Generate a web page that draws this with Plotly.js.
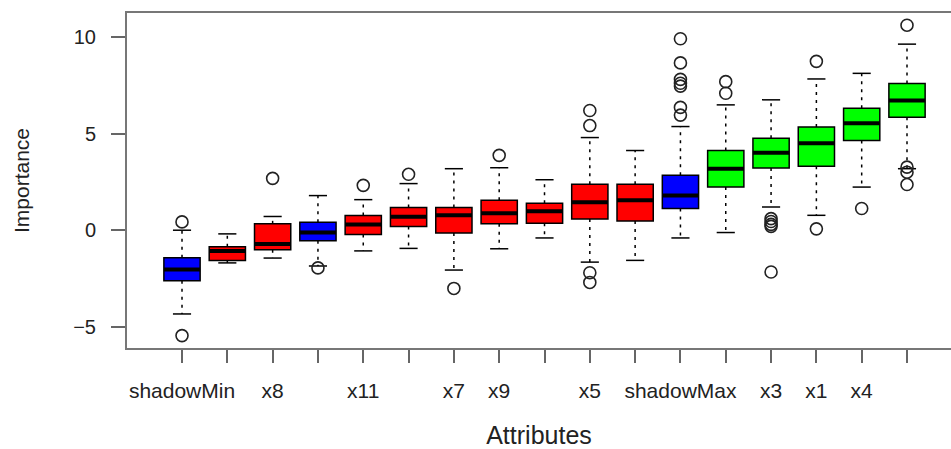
<!DOCTYPE html>
<html>
<head>
<meta charset="utf-8">
<script src="https://cdn.plot.ly/plotly-3.0.1.min.js"></script>
<style>html,body{margin:0;padding:0;background:#fff;}#chart{width:951px;height:449px;}</style>
</head>
<body>
<div id="chart"></div>
<script>
// Attribute positions (1..17) and the labels R managed to print
const positions = [1,2,3,4,5,6,7,8,9,10,11,12,13,14,15,16,17];
const tickLabels = ['shadowMin','','x8','','x11','','x7','x9','','x5','','shadowMax','','x3','x1','x4',''];
const decision = ['shadow','rejected','rejected','shadow','rejected','rejected','rejected','rejected','rejected','rejected','rejected','shadow','confirmed','confirmed','confirmed','confirmed','confirmed'];

// Box statistics
const q1     = [-2.61,-1.56,-1.01,-0.55,-0.22,0.19,-0.15,0.33,0.36,0.58,0.48,1.12,2.23,3.21,3.31,4.64,5.84];
const median = [-2.03,-1.07,-0.71,-0.12, 0.29,0.69, 0.77,0.88,0.98,1.44,1.55,1.79,3.18,4.00,4.50,5.53,6.70];
const q3     = [-1.43,-0.86, 0.33, 0.41, 0.76,1.17, 1.17,1.55,1.39,2.37,2.37,2.84,4.12,4.76,5.33,6.30,7.59];
const whiskerLow  = [-4.33,-1.69,-1.44,-1.85,-1.07,-0.94,-2.06,-0.96,-0.40,-1.65,-1.56,-0.40,-0.12,1.20,0.77,2.23,3.18];
const whiskerHigh = [ 0.00,-0.19, 0.71, 1.79, 1.58, 2.41, 3.18, 3.23, 2.61, 4.79, 4.12, 5.36, 6.48,6.74,7.82,8.11,9.62];

// Outliers per attribute
const outliers = [
  [0.43,-5.45],
  [],
  [2.68],
  [-1.95],
  [2.32],
  [2.89],
  [-3.01],
  [3.87],
  [],
  [6.19,5.41,-2.2,-2.7],
  [],
  [9.9,8.65,7.8,7.6,7.45,6.35,5.95],
  [7.68,7.08],
  [0.6,0.45,0.3,0.2,-2.16],
  [8.73,0.07],
  [1.12],
  [10.6,3.26,3.0,2.36]
];

const colorOf = {shadow:'#0000FF', rejected:'#FF0000', confirmed:'#00FF00'};

const traces = [];
['shadow','rejected','confirmed'].forEach(g => {
  const idx = positions.map((p,i)=>i).filter(i => decision[i] === g);
  traces.push({
    type:'box',
    x: idx.map(i=>positions[i]),
    q1: idx.map(i=>q1[i]),
    median: idx.map(i=>median[i]),
    q3: idx.map(i=>q3[i]),
    lowerfence: idx.map(i=>q1[i]),
    upperfence: idx.map(i=>q3[i]),
    width: 0.8,
    fillcolor: colorOf[g],
    line:{color:'#000', width:1.5},
    whiskerwidth:0,
    hoverinfo:'skip',
    showlegend:false
  });
});

// dashed whiskers
const wx=[], wy=[];
positions.forEach((p,i)=>{
  wx.push(p,p,null,p,p,null);
  wy.push(q3[i],whiskerHigh[i],null,q1[i],whiskerLow[i],null);
});
traces.push({type:'scatter',mode:'lines',x:wx,y:wy,line:{color:'#000',width:1.5,dash:'3px,5px'},hoverinfo:'skip',showlegend:false});

// staples
const sx=[], sy=[];
positions.forEach((p,i)=>{
  sx.push(p-0.2,p+0.2,null,p-0.2,p+0.2,null);
  sy.push(whiskerHigh[i],whiskerHigh[i],null,whiskerLow[i],whiskerLow[i],null);
});
traces.push({type:'scatter',mode:'lines',x:sx,y:sy,line:{color:'#000',width:1.5},hoverinfo:'skip',showlegend:false});

// thick medians
const mx=[], my=[];
positions.forEach((p,i)=>{
  mx.push(p-0.4,p+0.4,null);
  my.push(median[i],median[i],null);
});
traces.push({type:'scatter',mode:'lines',x:mx,y:my,line:{color:'#000',width:4},hoverinfo:'skip',showlegend:false});

// outliers
const ox=[], oy=[];
outliers.forEach((arr,i)=>arr.forEach(v=>{ox.push(positions[i]); oy.push(v);}));
traces.push({type:'scatter',mode:'markers',x:ox,y:oy,marker:{symbol:'circle-open',size:12,color:'#222',line:{width:1.6,color:'#222'}},hoverinfo:'skip',showlegend:false});

const font = 'Liberation Sans, Arial, sans-serif';
const layout = {
  width:951, height:449,
  margin:{l:127, r:0, t:13, b:101},
  paper_bgcolor:'#fff', plot_bgcolor:'#fff',
  boxmode:'overlay',
  showlegend:false,
  xaxis:{
    range:[-0.214,17.971],
    tickmode:'array', tickvals:positions, ticktext:tickLabels,
    ticks:'outside', ticklen:13, tickwidth:2, tickcolor:'#666',
    showline:true, linecolor:'#777', linewidth:2, mirror:true,
    showgrid:false, zeroline:false,
    tickfont:{family:font, size:21, color:'#222'},
    ticklabelstandoff:10,
    title:{text:'Attributes', font:{family:font, size:25, color:'#222'}, standoff:25},
    automargin:false
  },
  yaxis:{
    range:[-6.09,11.23],
    tickmode:'array', tickvals:[-5,0,5,10], ticktext:['−5','0','5','10'],
    ticks:'outside', ticklen:14, tickwidth:2, tickcolor:'#666',
    showline:true, linecolor:'#777', linewidth:2, mirror:false,
    showgrid:false, zeroline:false,
    tickfont:{family:font, size:20, color:'#222'},
    ticklabelstandoff:11,
    title:{text:'Importance', font:{family:font, size:21, color:'#222'}, standoff:38},
    automargin:false
  }
};

Plotly.newPlot('chart', traces, layout, {staticPlot:true, displayModeBar:false});
</script>
</body>
</html>
